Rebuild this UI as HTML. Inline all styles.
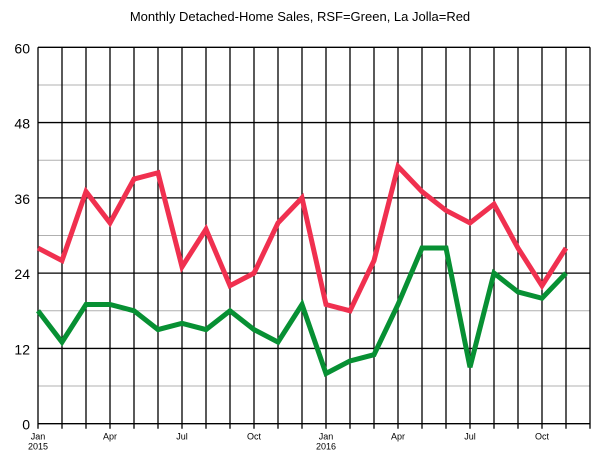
<!DOCTYPE html>
<html><head><meta charset="utf-8"><style>
html,body{margin:0;padding:0;background:#fff;width:600px;height:463px;overflow:hidden}
svg{display:block;font-family:"Liberation Sans",Arial,sans-serif}
</style></head><body>
<svg id="chart" width="600" height="463">
<text x="300" y="21" text-anchor="middle" font-size="13" fill="#000">Monthly Detached-Home Sales, RSF=Green, La Jolla=Red</text>
<g id="grid"></g><g id="lines"></g><g id="labels"></g>
</svg>
<script>
const months = ["Jan","Feb","Mar","Apr","May","Jun","Jul","Aug","Sep","Oct","Nov","Dec","Jan","Feb","Mar","Apr","May","Jun","Jul","Aug","Sep","Oct","Nov"];
const laJolla = [28,26,37,32,39,40,25,31,22,24,32,36,19,18,26,41,37,34,32,35,28,22,28];
const rsf = [18,13,19,19,18,15,16,15,18,15,13,19,8,10,11,19,28,28,9,24,21,20,24];
const yTicks = [0,12,24,36,48,60];
const xLabels = [[0,"Jan","2015"],[3,"Apr",""],[6,"Jul",""],[9,"Oct",""],[12,"Jan","2016"],[15,"Apr",""],[18,"Jul",""],[21,"Oct",""]];
const X0=38,X1=590,NM=23,Y0=423.7,Y1=47.3,YMAX=60;
const x=i=>X0+(X1-X0)*i/NM;
const y=v=>Y0-(Y0-Y1)*v/YMAX;
const NS="http://www.w3.org/2000/svg";
function mk(tag,attrs,parent){const e=document.createElementNS(NS,tag);for(const k in attrs)e.setAttribute(k,attrs[k]);parent.appendChild(e);return e;}
const grid=document.getElementById('grid'),lines=document.getElementById('lines'),labels=document.getElementById('labels');
for(let v=6;v<YMAX;v+=12){
  const l=mk('line',{x1:X0,x2:X1,y1:y(v),y2:y(v),stroke:'#b0b0b0','stroke-width':1},grid);
  
  
}
yTicks.forEach(v=>{
  const l=mk('line',{x1:X0,x2:X1,y1:y(v),y2:y(v),stroke:'#000','stroke-width':1.3},grid);
  
  
  const t=mk('text',{x:X0-8,y:y(v)+6,'text-anchor':'end','font-size':14,fill:'#000'},labels);
  t.textContent=v;
  
  
});
for(let i=0;i<=NM;i++){
  const l=mk('line',{x1:x(i),x2:x(i),y1:Y1,y2:Y0+5,stroke:'#000','stroke-width':1.3},grid);
  
  
}
xLabels.forEach(([i,m,yr])=>{
  const t=mk('text',{x:x(i),y:Y0+16,'text-anchor':'middle','font-size':9,fill:'#000'},labels);
  t.textContent=m;
  
  
  if(yr){
    const t2=mk('text',{x:x(i),y:Y0+26,'text-anchor':'middle','font-size':9,fill:'#000'},labels);
    t2.textContent=yr;
    
    
  }
});
function series(data,color,name){
  const p=mk('polyline',{points:data.map((v,i)=>x(i)+','+y(v)).join(' '),fill:'none',stroke:color,'stroke-width':5,'stroke-linejoin':'miter'},lines);
  
  
}
series(laJolla,'#f0304f','la-jolla-line');
series(rsf,'#079033','rsf-line');
</script>
</body></html>
